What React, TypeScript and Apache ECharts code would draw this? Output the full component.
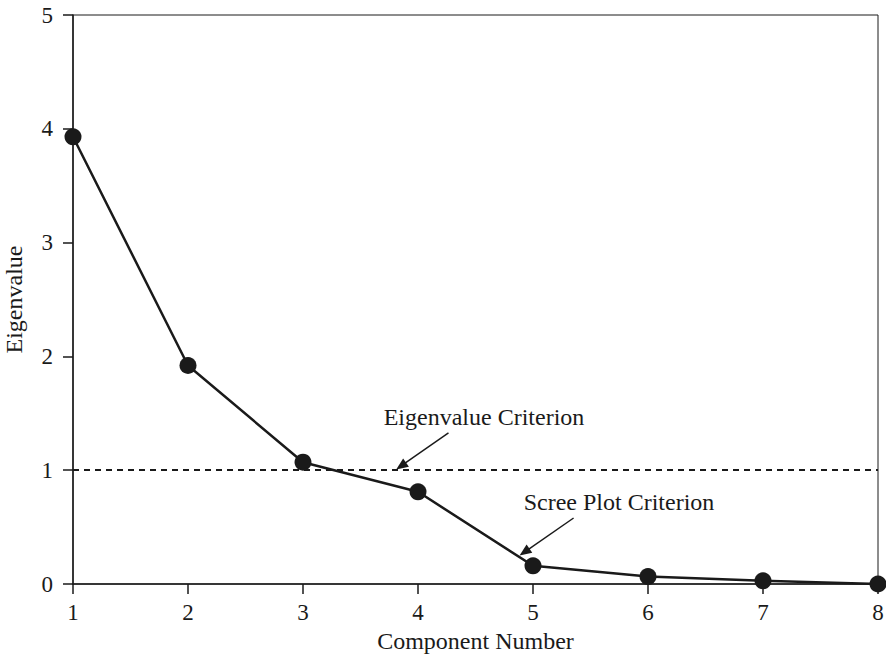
import React, { useEffect, useRef } from "react";
import * as echarts from "echarts";

const components = [1, 2, 3, 4, 5, 6, 7, 8];
const eigenvalues = [3.93, 1.92, 1.07, 0.81, 0.16, 0.065, 0.028, 0.0];
const criterionValue = 1;
const eigenArrow = [[4.265, 1.327], [3.853, 1.037]];
const screeArrow = [[5.353, 0.58], [4.926, 0.281]];
const eigenLabel = "Eigenvalue Criterion";
const screeLabel = "Scree Plot Criterion";

const FONT = "'Liberation Serif', 'Times New Roman', serif";
const INK = "#1a1a1a";
const FS = 23;
const NAME_FS = 24;

export default function App() {
  const ref = useRef<HTMLDivElement>(null);
  useEffect(() => {
    if (!ref.current) return;
    const chart = echarts.init(ref.current, undefined, { renderer: "svg" });
    chart.setOption({
      animation: false,
      backgroundColor: "#fff",
      textStyle: { fontFamily: FONT },
      grid: {
        left: 73,
        right: 8,
        top: 15,
        bottom: 73,
        show: true,
        borderColor: INK,
        borderWidth: 1,
        containLabel: false,
        outerBoundsMode: "none",
      },
      xAxis: {
        type: "value",
        min: 1,
        max: 8,
        interval: 1,
        name: "Component Number",
        nameLocation: "middle",
        nameGap: 45,
        nameTextStyle: { fontFamily: FONT, fontSize: NAME_FS, color: INK },
        axisLine: { show: true, lineStyle: { color: INK, width: 1.5 } },
        axisTick: { show: true, length: 10, lineStyle: { color: INK, width: 1.5 } },
        axisLabel: { fontFamily: FONT, fontSize: FS, color: INK, margin: 17 },
        splitLine: { show: false },
      },
      yAxis: {
        type: "value",
        min: 0,
        max: 5,
        interval: 1,
        name: "Eigenvalue",
        nameLocation: "middle",
        nameGap: 47,
        nameTextStyle: { fontFamily: FONT, fontSize: NAME_FS, color: INK },
        axisLine: { show: true, lineStyle: { color: INK, width: 1.5 } },
        axisTick: { show: true, length: 10, lineStyle: { color: INK, width: 1.5 } },
        axisLabel: { fontFamily: FONT, fontSize: FS, color: INK, margin: 20 },
        splitLine: { show: false },
      },
      series: [
        {
          type: "line",
          data: components.map((c, i) => [c, eigenvalues[i]]),
          symbol: "circle",
          symbolSize: 17,
          itemStyle: { color: INK },
          lineStyle: { color: INK, width: 2.5 },
          z: 5,
          markLine: {
            silent: true,
            animation: false,
            label: { show: false },
            lineStyle: { color: INK, width: 1.5 },
            data: [
              [
                { coord: [1, criterionValue], symbol: "none", lineStyle: { type: [6, 5], width: 2, color: INK } },
                { coord: [8, criterionValue], symbol: "none" },
              ],
              [
                { coord: eigenArrow[0], symbol: "none", lineStyle: { type: "solid", width: 1.5, color: INK } },
                { coord: eigenArrow[1], symbol: "triangle", symbolSize: [10, 12] },
              ],
              [
                { coord: screeArrow[0], symbol: "none", lineStyle: { type: "solid", width: 1.5, color: INK } },
                { coord: screeArrow[1], symbol: "triangle", symbolSize: [10, 12] },
              ],
            ],
          },
        },
      ],
      graphic: [
        {
          type: "text",
          x: 484,
          y: 417,
          style: {
            text: eigenLabel,
            fontFamily: FONT,
            fontSize: 24,
            fill: INK,
            align: "center",
            verticalAlign: "middle",
          },
        },
        {
          type: "text",
          x: 619,
          y: 502,
          style: {
            text: screeLabel,
            fontFamily: FONT,
            fontSize: 24,
            fill: INK,
            align: "center",
            verticalAlign: "middle",
          },
        },
      ],
    });
    return () => chart.dispose();
  }, []);
  return <div ref={ref} style={{ width: 886, height: 657, position: "absolute", left: 0, top: 0 }} />;
}
